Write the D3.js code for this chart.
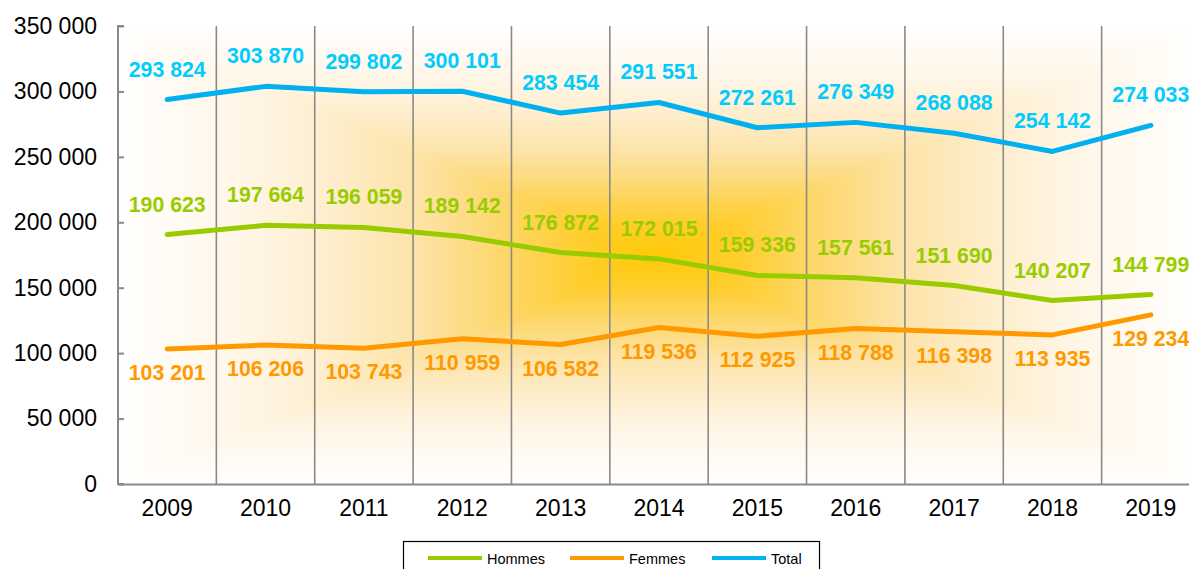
<!DOCTYPE html>
<html><head><meta charset="utf-8">
<script src="https://cdn.jsdelivr.net/npm/d3@7"></script>
<style>html,body{margin:0;padding:0;background:#fff;overflow:hidden}svg{display:block;font-family:"Liberation Sans",Arial,sans-serif}</style>
</head><body><svg id="c" width="1189" height="569"></svg>
<script>
const years = ["2009","2010","2011","2012","2013","2014","2015","2016","2017","2018","2019"];
const hommes = [190623,197664,196059,189142,176872,172015,159336,157561,151690,140207,144799];
const femmes = [103201,106206,103743,110959,106582,119536,112925,118788,116398,113935,129234];
const total  = [293824,303870,299802,300101,283454,291551,272261,276349,268088,254142,274033];
const yTicks = [0,50000,100000,150000,200000,250000,300000,350000];
const seriesNames = ["Hommes","Femmes","Total"];

const svg = d3.select("#c");
const L = 118, R = 1200, T = 26, B = 484;
const x = d3.scaleBand().domain(years).range([L, R]).padding(0);
const y = d3.scaleLinear().domain([0, 350000]).range([B, T]);
const fmt = v => d3.format(",")(v).replace(/,/g, " ");

// rectangular path gradient (centre -> edges), built from four triangles
const CX = (L+R)/2, CY = (T+B)/2;
const stops = [[0,"#FFC905"],[0.15,"#FFCE30"],[0.3,"#FDD870"],[0.45,"#FDE3A8"],[0.6,"#FEEDCA"],[0.75,"#FFF5E4"],[0.9,"#FFFBF4"],[1,"#FFFFFF"]];
const defs = svg.append("defs");
const tris = [
  {id:"gT", x1:CX,y1:CY,x2:CX,y2:T, pts:[[L,T],[R,T],[CX,CY]]},
  {id:"gB", x1:CX,y1:CY,x2:CX,y2:B, pts:[[L,B],[R,B],[CX,CY]]},
  {id:"gL", x1:CX,y1:CY,x2:L,y2:CY, pts:[[L,T],[L,B],[CX,CY]]},
  {id:"gR", x1:CX,y1:CY,x2:R,y2:CY, pts:[[R,T],[R,B],[CX,CY]]}
];
tris.forEach(t=>{
  const lg = defs.append("linearGradient").attr("id",t.id).attr("gradientUnits","userSpaceOnUse")
    .attr("x1",t.x1).attr("y1",t.y1).attr("x2",t.x2).attr("y2",t.y2);
  stops.forEach(s=>lg.append("stop").attr("offset",s[0]).attr("stop-color",s[1]));
  svg.append("polygon").attr("points",t.pts.map(p=>p.join(",")).join(" "))
    .attr("fill",`url(#${t.id})`).attr("stroke",`url(#${t.id})`).attr("stroke-width",0.6);
});

// vertical separators
svg.append("g").selectAll("line").data(years.slice(1)).join("line")
  .attr("x1",d=>x(d)).attr("x2",d=>x(d)).attr("y1",T).attr("y2",B)
  .attr("stroke","#8a8a8a").attr("stroke-width",1.6);

// y axis
const ya = svg.append("g").attr("transform",`translate(${L},0)`)
  .call(d3.axisLeft(y).tickValues(yTicks).tickFormat(fmt).tickSize(-6).tickPadding(21));
ya.select(".domain").attr("stroke","#8a8a8a").attr("stroke-width",2).attr("d",`M6,${T}H0V${B}H6`);
ya.selectAll(".tick line").attr("stroke","#8a8a8a").attr("stroke-width",2);
ya.selectAll("text").attr("font-size",23).attr("fill","#000").attr("font-family","Liberation Sans, Arial, sans-serif");

// x axis
const xa = svg.append("g").attr("transform",`translate(0,${B})`)
  .call(d3.axisBottom(x).tickSize(0).tickPadding(16));
xa.select(".domain").attr("stroke","#8a8a8a").attr("stroke-width",2);
xa.selectAll("text").attr("font-size",23).attr("fill","#000").attr("font-family","Liberation Sans, Arial, sans-serif");

const series = [
  {name:"Hommes", vals:hommes, color:"#99CC00", label:"#99CC00", pos:"above"},
  {name:"Femmes", vals:femmes, color:"#FF9900", label:"#FF9900", pos:"below"},
  {name:"Total",  vals:total,  color:"#00B0F0", label:"#00CCFF", pos:"above"}
];
const cx = d => x(d) + x.bandwidth()/2;
const line = d3.line().x(d=>cx(d.year)).y(d=>y(d.v));
series.forEach(s=>{
  const data = years.map((yr,i)=>({year:yr, v:s.vals[i]}));
  svg.append("path").datum(data).attr("d",line).attr("fill","none")
    .attr("stroke",s.color).attr("stroke-width",5).attr("stroke-linejoin","round").attr("stroke-linecap","round");
  svg.append("g").selectAll("text").data(data).join("text")
    .attr("x",d=>cx(d.year)).attr("y",d=>y(d.v) + (s.pos==="above" ? -23 : 31))
    .attr("text-anchor","middle").attr("font-size",21.3).attr("font-weight","bold")
    .attr("fill",s.label).text(d=>fmt(d.v));
});

// legend
const lg = svg.append("g");
lg.append("rect").attr("x",403.5).attr("y",541.5).attr("width",416).attr("height",40)
  .attr("fill","#fff").attr("stroke","#000").attr("stroke-width",1.2);
const lx = [428,570,712];
series.forEach((s,i)=>{
  lg.append("line").attr("x1",lx[i]).attr("x2",lx[i]+54).attr("y1",558).attr("y2",558)
    .attr("stroke",s.color).attr("stroke-width",4);
  lg.append("text").attr("x",lx[i]+59).attr("y",563.5).attr("font-size",14.5).attr("fill","#000").text(seriesNames[i]);
});
</script></body></html>
